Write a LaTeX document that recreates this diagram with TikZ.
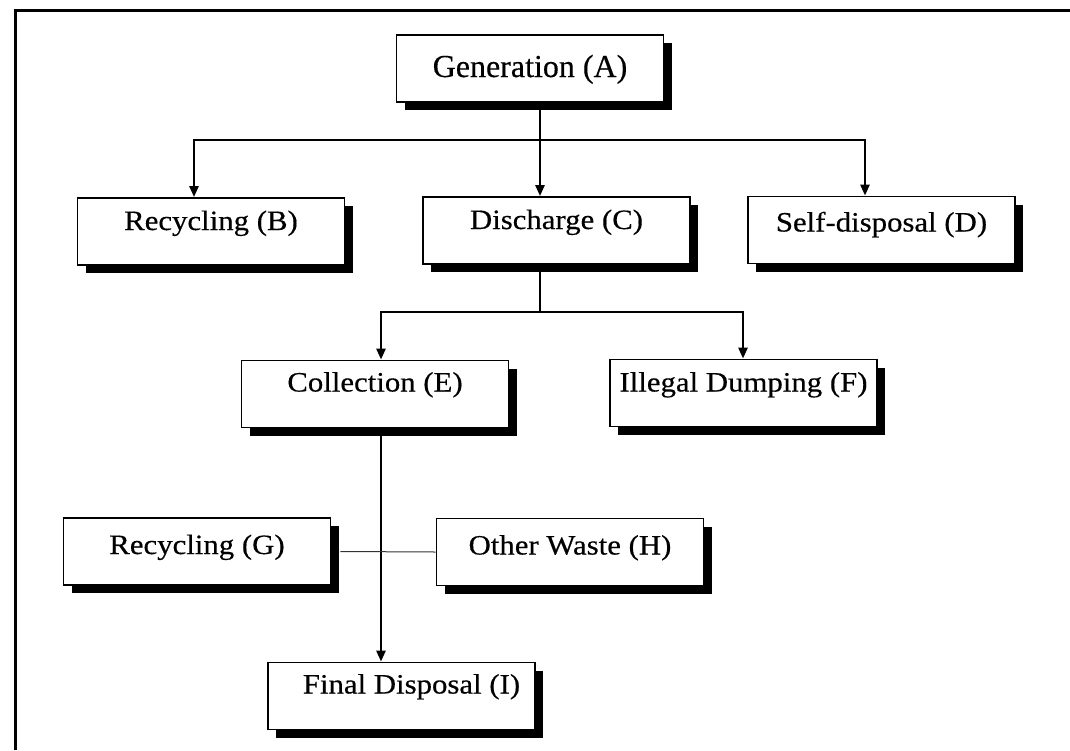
\documentclass[tikz,border=0pt]{standalone}
\usepackage{fontspec}
\setmainfont{Liberation Serif}[FakeStretch=1.1,FakeBold=0.4]
\newfontfamily\afont{Liberation Serif}[FakeBold=0.4]
\usetikzlibrary{arrows.meta,shadows,calc}
\begin{document}
\begin{tikzpicture}[x=1pt,y=-1pt,
  box/.style={draw=black, line width=1.8pt, fill=white, rectangle,
    minimum width=267pt, inner sep=0pt, text height=32pt, text depth=35pt,
    font=\fontsize{28}{30}\selectfont,
    drop shadow={shadow xshift=8pt, shadow yshift=-8pt, fill=black, opacity=1}},
  base/.style={text height={#1*1pt}, text depth={(67-#1)*1pt}},
  conn/.style={line width=2.5pt, draw=black},
  arr/.style={conn, -{Triangle[length=11pt,width=9pt]}},
  thinconn/.style={line width=1pt, draw=black!80}]
\useasboundingbox (0,0) rectangle (1070,750);
\fill[white] (0,0) rectangle (1070,750);
\draw[line width=3pt] (15,750) -- (15,10) -- (1070,10);

\node[box, base=42, font=\afont\fontsize{32}{34}\selectfont] (A) at (530,68.5) {Generation (A)};
\node[box, base=32] (B) at (211,231.5) {Recycling (B)};
\node[box, base=32] (C) at (556.5,230.5) {Discharge (C)};
\node[box, base=35] (D) at (881.5,230) {Self-disposal (D)};
\node[box, base=31] (E) at (375,394) {Collection (E)};
\node[box, base=32] (F) at (743.5,393) {Illegal Dumping (F)};
\node[box, base=36] (G) at (197,551.5) {Recycling (G)};
\node[box, base=36] (H) at (570,552) {Other Waste (H)};
\node[box, base=31] (I) at (401.5,696) {\hspace{20pt}Final Disposal (I)};

\coordinate (j1) at (540,140);
\coordinate (bx) at (194,0);
\coordinate (dx) at (865,0);
\coordinate (j2) at (540,312);
\coordinate (ex) at (381,0);
\coordinate (fx) at (743,0);

\draw[arr] (A.south -| j1) -- (C.north -| j1);
\draw[arr] (j1) -| (B.north -| bx);
\draw[arr] (j1) -| (D.north -| dx);
\draw[conn] (C.south -| j2) -- (j2);
\draw[arr] (j2) -| (E.north -| ex);
\draw[arr] (j2) -| (F.north -| fx);
\draw[arr] (E.south -| ex) -- (I.north -| ex);
\draw[thinconn] ($(G.east)+(9,0)$) -- (H.west);
\end{tikzpicture}
\end{document}
